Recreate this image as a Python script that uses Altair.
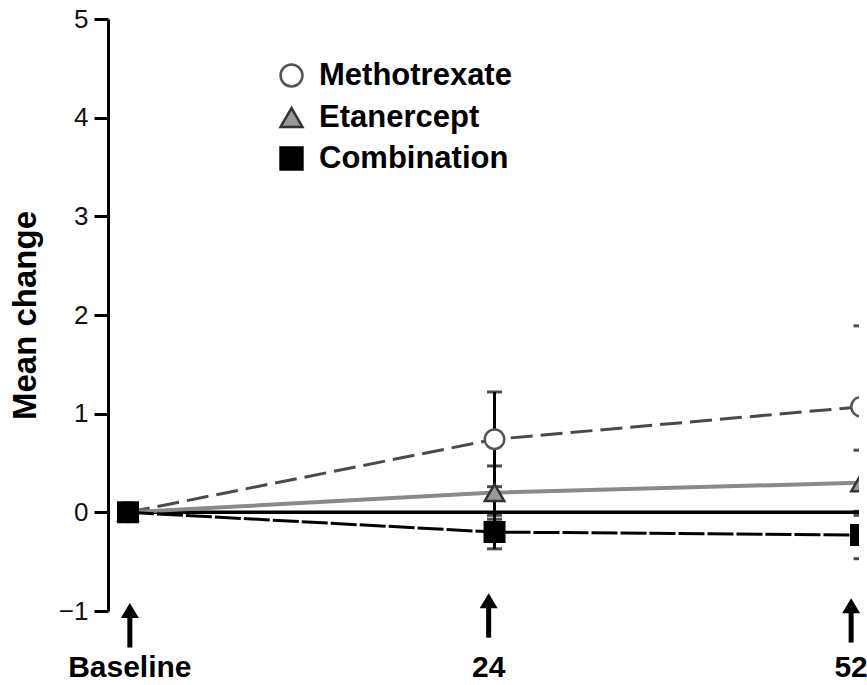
import altair as alt
import pandas as pd

series_names = ["Methotrexate", "Etanercept", "Combination"]
timepoint_labels = ["Baseline", "24", "52"]
x_index = [0, 1, 2]
methotrexate = [0.0, 0.74, 1.07]
etanercept = [0.0, 0.20, 0.30]
combination = [0.0, -0.20, -0.23]
methotrexate_err = [0.0, 0.48, 0.82]
etanercept_err = [0.0, 0.27, 0.33]
combination_err = [0.0, 0.17, 0.24]

arrow_x = [0.005, 0.984, 1.973]
arrow_tip = [-0.92, -0.82, -0.87]
arrow_end = [-1.37, -1.27, -1.32]
label_y = -1.58

rows = []
for name, vals, errs in zip(series_names,
                            [methotrexate, etanercept, combination],
                            [methotrexate_err, etanercept_err, combination_err]):
    for i, v, e in zip(x_index, vals, errs):
        rows.append({"series": name, "idx": i, "value": v, "err": e})
df = pd.DataFrame(rows)

arrows = pd.DataFrame({"ax": arrow_x, "tip": arrow_tip, "end": arrow_end,
                       "label": timepoint_labels})
zero_df = pd.DataFrame({"x0": [0], "x1": [2.2], "value": [0.0]})

FONT = "Liberation Sans"
xs = alt.Scale(domain=[-0.0546, 1.9945], nice=False, zero=False)
ys = alt.Scale(domain=[-1, 5], nice=False, zero=False)
yaxis = alt.Axis(values=[-1, 0, 1, 2, 3, 4, 5], format="d", title="Mean change",
                 grid=False, domainColor="black", domainWidth=3,
                 tickColor="black", tickWidth=3, tickSize=14,
                 labelFont=FONT, labelFontSize=26, labelColor="#111111",
                 labelPadding=6, titleFont=FONT, titleFontSize=33,
                 titleFontWeight="bold", titleColor="black", titlePadding=16)
X = alt.X("idx:Q", scale=xs, axis=None)
Y = alt.Y("value:Q", scale=ys, axis=yaxis)

zero = alt.Chart(zero_df).mark_rule(color="black", strokeWidth=3.5, clip=True).encode(
    x=alt.X("x0:Q", scale=xs, axis=None), x2="x1:Q", y=Y)

def line_layer(name, color, width, dash=None):
    kw = dict(color=color, strokeWidth=width, clip=True)
    if dash:
        kw["strokeDash"] = dash
    return alt.Chart(df).transform_filter(alt.datum.series == name).mark_line(**kw).encode(x=X, y=Y)

l_m = line_layer("Methotrexate", "#4a4a4a", 3, [22, 8])
l_e = line_layer("Etanercept", "#8a8a8a", 4)
l_c = line_layer("Combination", "#000000", 3, [26, 3])

err_base = alt.Chart(df).transform_filter(alt.datum.idx > 0).transform_calculate(
    lo="datum.value - datum.err", hi="datum.value + datum.err")
err_rule = err_base.mark_rule(color="black", strokeWidth=3, clip=True).encode(
    x=X, y=alt.Y("lo:Q", scale=ys, axis=yaxis), y2="hi:Q")
err_caps = err_base.transform_fold(["lo", "hi"], as_=["end", "ev"]).mark_tick(
    orient="horizontal", size=15, thickness=3, color="black", clip=True).encode(
    x=X, y=alt.Y("ev:Q", scale=ys, axis=yaxis))

leg = alt.Legend(title=None, orient="none", legendX=168, legendY=41,
                 labelFont=FONT, labelFontSize=31, labelFontWeight="bold",
                 labelColor="black", labelLimit=0, symbolSize=480, symbolStrokeWidth=2.5,
                 rowPadding=9, labelOffset=12, padding=0)

points = alt.Chart(df).mark_point(size=380, strokeWidth=2.5, opacity=1, fillOpacity=1, clip=True).encode(
    x=X, y=Y,
    shape=alt.Shape("series:N", scale=alt.Scale(domain=series_names,
                    range=["circle", "triangle-up", "square"]), legend=leg),
    fill=alt.Fill("series:N", scale=alt.Scale(domain=series_names,
                  range=["#ffffff", "#999999", "#000000"]), legend=leg),
    stroke=alt.Stroke("series:N", scale=alt.Scale(domain=series_names,
                      range=["#555555", "#333333", "#000000"]), legend=leg),
)

shaft = alt.Chart(arrows).transform_calculate(top="datum.tip - 0.1").mark_rule(
    color="black", strokeWidth=5).encode(
    x=alt.X("ax:Q", scale=xs, axis=None), y=alt.Y("top:Q", scale=ys, axis=yaxis), y2="end:Q")
head = alt.Chart(arrows).mark_point(shape="M0,0L1.2,2L-1.2,2Z", size=225, filled=True,
                                    color="black", opacity=1).encode(
    x=alt.X("ax:Q", scale=xs, axis=None), y=alt.Y("tip:Q", scale=ys, axis=yaxis))
labels = alt.Chart(arrows).transform_calculate(ly=str(label_y)).mark_text(
    font=FONT, fontWeight="bold", fontSize=30,
    align="center", baseline="middle", color="black").encode(
    x=alt.X("ax:Q", scale=xs, axis=None), y=alt.Y("ly:Q", scale=ys, axis=yaxis), text="label:N")

chart = alt.layer(zero, l_m, l_e, l_c, err_rule, err_caps, points, shaft, head, labels).properties(
    width=751, height=592, background="white",
    padding={"left": 108, "top": 19, "right": 8, "bottom": 74},
    autosize=alt.AutoSizeParams(type="none"),
).configure_view(stroke=None)

chart.save("out.html", embed_options={"renderer": "svg", "actions": False})
